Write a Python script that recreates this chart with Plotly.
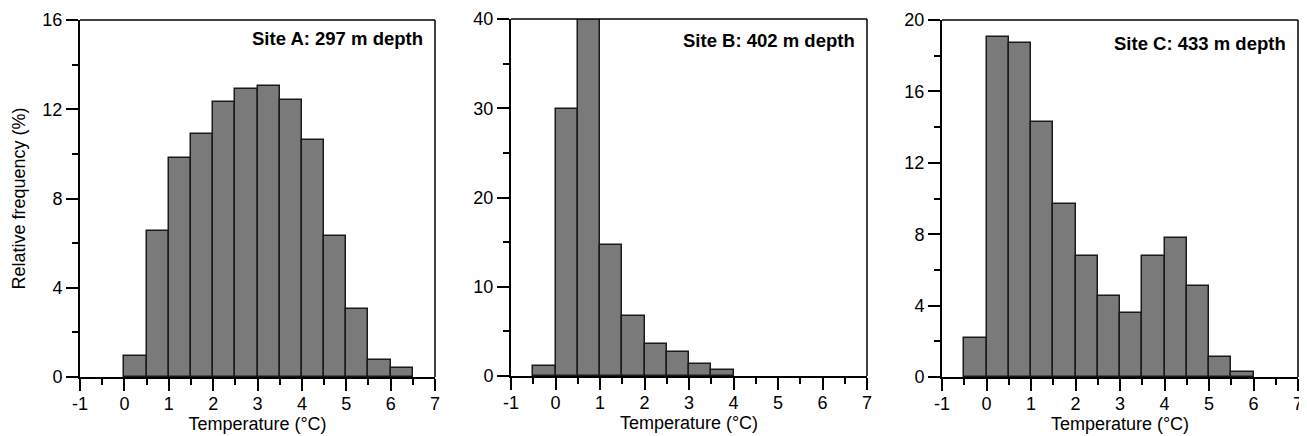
import plotly.graph_objects as go

# ---- data ----
BIN_WIDTH = 0.5
SITE_A_BIN_STARTS = [0.0, 0.5, 1.0, 1.5, 2.0, 2.5, 3.0, 3.5, 4.0, 4.5, 5.0, 5.5, 6.0]
SITE_A_FREQ = [0.93, 6.53, 9.81, 10.9, 12.31, 12.9, 13.02, 12.41, 10.63, 6.33, 3.05, 0.75, 0.39]

SITE_B_BIN_STARTS = [-0.5, 0.0, 0.5, 1.0, 1.5, 2.0, 2.5, 3.0, 3.5]
SITE_B_FREQ = [1.12, 29.87, 40.0, 14.65, 6.69, 3.59, 2.65, 1.31, 0.71]

SITE_C_BIN_STARTS = [-0.5, 0.0, 0.5, 1.0, 1.5, 2.0, 2.5, 3.0, 3.5, 4.0, 4.5, 5.0, 5.5]
SITE_C_FREQ = [2.17, 19.07, 18.73, 14.28, 9.68, 6.77, 4.54, 3.57, 6.77, 7.79, 5.10, 1.10, 0.30]

SITE_LABELS = ["Site A: 297 m depth", "Site B: 402 m depth", "Site C: 433 m depth"]
Y_MAX = [16, 40, 20]
Y_DTICK = [4, 10, 4]
X_TICK_VALUES = [-1, 0, 1, 2, 3, 4, 5, 6, 7]
X_TICK_LABELS = ["-1", "0", "1", "2", "3", "4", "5", "6", "7"]
X_RANGE = [-1, 7]
X_TITLE = "Temperature (°C)"
Y_TITLE = "Relative frequency (%)"

# ---- layout geometry (screen pixels; page body has an 8px margin) ----
OFF = 8
SCREEN_W, SCREEN_H = 1307, 436
W, H = SCREEN_W - OFF, SCREEN_H - OFF
x_domains_px = [(80, 435), (511, 867), (942, 1298)]
y_domains_px = [(20, 377), (19, 376), (20, 377)]
label_offsets_px = [18, 22, 24]

FONT = "Liberation Sans, Arial, sans-serif"
BAR_COLOR = "#7a7a7a"

fig = go.Figure()
series = [
    (SITE_A_BIN_STARTS, SITE_A_FREQ),
    (SITE_B_BIN_STARTS, SITE_B_FREQ),
    (SITE_C_BIN_STARTS, SITE_C_FREQ),
]

shapes = []
annotations = []
for i, (starts, freq) in enumerate(series):
    n = "" if i == 0 else str(i + 1)
    centers = [s + BIN_WIDTH / 2 for s in starts]
    fig.add_trace(go.Bar(
        x=centers, y=freq, width=[BIN_WIDTH] * len(centers),
        marker=dict(color=BAR_COLOR, line=dict(color="#1a1a1a", width=1.5)),
        xaxis="x" + n, yaxis="y" + n, showlegend=False,
    ))
    x0, x1 = x_domains_px[i]
    y0, y1 = y_domains_px[i]
    xd = [(x0 - OFF) / W, (x1 - OFF) / W]
    yd = [1 - (y1 - OFF) / H, 1 - (y0 - OFF) / H]
    common_tick = dict(ticks="outside", ticklen=12, tickwidth=2, tickcolor="black",
                       showline=True, linewidth=2, linecolor="black",
                       showgrid=False, zeroline=False, automargin=False,
                       tickfont=dict(family=FONT, size=18, color="black"))
    fig.layout["xaxis" + n] = dict(
        domain=xd, range=X_RANGE, tickmode="array",
        tickvals=X_TICK_VALUES, ticktext=X_TICK_LABELS, anchor="y" + n,
        ticklabelstandoff=-3,
        minor=dict(dtick=0.5, tick0=0, ticks="outside", ticklen=6, tickwidth=2, tickcolor="black"),
        title=dict(text=X_TITLE, font=dict(family=FONT, size=18, color="black"), standoff=2),
        **common_tick,
    )
    ydict = dict(
        domain=yd, range=[0, Y_MAX[i]], dtick=Y_DTICK[i], tick0=0, anchor="x" + n,
        minor=dict(dtick=Y_DTICK[i] / 2, tick0=0, ticks="outside", ticklen=6, tickwidth=2, tickcolor="black"),
        **common_tick,
    )
    if i == 0:
        ydict["title"] = dict(text=Y_TITLE, font=dict(family=FONT, size=18, color="black"), standoff=12)
    fig.layout["yaxis" + n] = ydict
    # thin top / right frame lines
    xr = ("x" + n + " domain") if n else "x domain"
    yr = ("y" + n + " domain") if n else "y domain"
    shapes.append(dict(type="line", xref=xr, yref=yr, x0=0, x1=1, y0=1, y1=1,
                       line=dict(color="black", width=1.5)))
    shapes.append(dict(type="line", xref=xr, yref=yr, x0=1, x1=1, y0=0, y1=1,
                       line=dict(color="black", width=1.5)))
    annotations.append(dict(text="<b>" + SITE_LABELS[i] + "</b>", xref=xr, yref=yr,
                            x=0.972, y=1 - label_offsets_px[i] / (y1 - y0),
                            xanchor="right", yanchor="middle", showarrow=False,
                            font=dict(family=FONT, size=18.5, color="black")))

fig.update_layout(
    width=W, height=H,
    margin=dict(l=0, r=0, t=0, b=0),
    paper_bgcolor="white", plot_bgcolor="white",
    bargap=0, shapes=shapes, annotations=annotations,
    font=dict(family=FONT, size=18, color="black"),
)

fig.write_html("out.html")
